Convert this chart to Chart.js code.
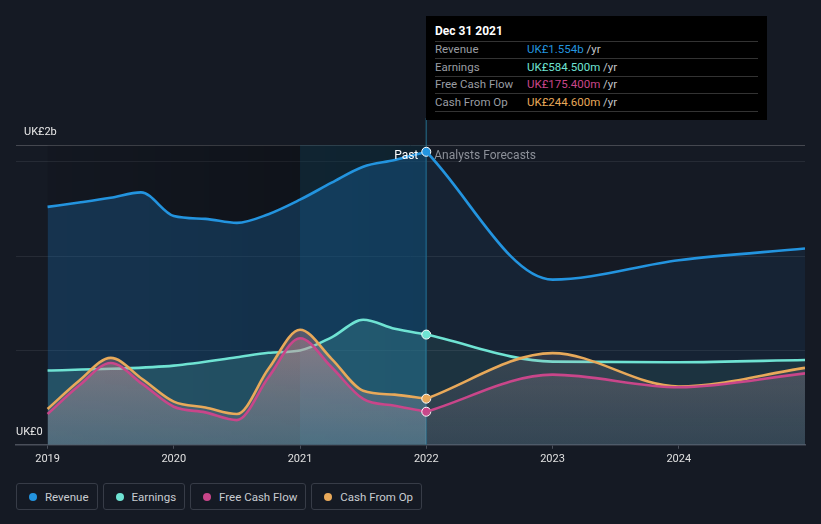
<!DOCTYPE html>
<html>
<head>
<meta charset="utf-8">
<script src="https://cdn.jsdelivr.net/npm/chart.js@4.4.1/dist/chart.umd.min.js"></script>
<style>
  body { margin:0; background:#151a24; width:821px; height:524px; overflow:hidden; font-family:Roboto, sans-serif; position:relative; }
  #wrap { position:absolute; left:0; top:0; width:821px; height:470px; }
  #tip { position:absolute; left:426px; top:16px; width:341px; height:104px; background:#000; font-size:11.5px; }
  #tip .t { position:absolute; left:9px; top:8px; color:#fff; font-weight:bold; font-size:12px; }
  #tip .sep { position:absolute; left:9px; width:323px; height:1px; background:#333; }
  #tip .row { position:absolute; left:9px; width:320px; line-height:14px; }
  #tip .lab { position:absolute; left:0; color:#9a9da3; }
  #tip .val { position:absolute; left:92px; white-space:nowrap; }
  #tip .val span { color:#c4c6ca; }
  #legend { position:absolute; left:16px; top:483px; display:flex; gap:5px; }
  .item { height:27px; border:1px solid #373c47; border-radius:3px; box-sizing:border-box; display:flex; align-items:center; padding:0 8px 0 12px; color:#c9ccd1; font-size:11.5px; }
  .dot { width:8px; height:8px; border-radius:50%; margin-right:8px; }
</style>
</head>
<body>
<div id="wrap"><canvas id="c"></canvas></div>
<div id="tip"></div>
<div id="legend"></div>
<script>
const NAMES  = ['Revenue', 'Earnings', 'Free Cash Flow', 'Cash From Op'];
const COLORS = ['#2394df', '#6fe3d3', '#c9468a', '#e8a95a'];
const NOW = 2022;
const YMAX = 1.59;
const X_TICKS = [2019, 2020, 2021, 2022, 2023, 2024];
const Y_GRID = [0, 0.5, 1.0, 1.5, YMAX];
const Y_LABELS = [[0, 'UK£0'], [YMAX, 'UK£2b']];

// values in UK£ billions
const revPastT = [2019, 2019.25, 2019.5, 2019.74, 2020, 2020.25, 2020.5, 2020.75, 2021, 2021.25, 2021.5, 2021.75, 2022];
const revPast  = [1.262, 1.285, 1.31, 1.339, 1.213, 1.198, 1.177, 1.223, 1.30, 1.39, 1.475, 1.51, 1.554];
const revFcT   = [2022, 2023, 2024, 2025];
const revFc    = [1.554, 0.876, 0.979, 1.041];

const earnPastT = [2019, 2019.5, 2020, 2020.5, 2020.75, 2021, 2021.25, 2021.5, 2021.75, 2022];
const earnPast  = [0.394, 0.403, 0.42, 0.464, 0.488, 0.50, 0.57, 0.663, 0.615, 0.5845];
const earnFcT   = [2022, 2023, 2024, 2025];
const earnFc    = [0.5845, 0.441, 0.438, 0.45];

const cashT   = [2019, 2019.25, 2019.5, 2019.75, 2020, 2020.25, 2020.5, 2020.75, 2021, 2021.25, 2021.5, 2021.75, 2022];
const fcfPast = [0.163, 0.314, 0.434, 0.323, 0.202, 0.172, 0.131, 0.358, 0.565, 0.411, 0.243, 0.207, 0.1754];
const cfoPast = [0.19, 0.34, 0.461, 0.349, 0.229, 0.198, 0.163, 0.403, 0.61, 0.456, 0.287, 0.266, 0.2446];
const cashFcT = [2022, 2023, 2024, 2025];
const fcfFc   = [0.1754, 0.372, 0.305, 0.379];
const cfoFc   = [0.2446, 0.486, 0.309, 0.408];

function pts(t, v){ return t.map((x, i) => ({ x, y: v[i] })); }

function cashFill(past){
  return (ctx) => {
    const ch = ctx.chart, a = ch.chartArea;
    if (!a) return 'rgba(0,0,0,0)';
    const y = ch.scales.y;
    const g = ch.ctx.createLinearGradient(0, y.getPixelForValue(0.65), 0, a.bottom);
    if (past) { g.addColorStop(0, 'rgba(215,145,145,0.36)'); g.addColorStop(1, 'rgba(165,160,170,0.18)'); }
    else { g.addColorStop(0, 'rgba(200,160,160,0.2)'); g.addColorStop(1, 'rgba(150,150,165,0.1)'); }
    return g;
  };
}

function line(data, color, fill, order, dot){
  return {
    data, borderColor: color, backgroundColor: fill, fill: 'origin', order,
    borderWidth: 2.6, cubicInterpolationMode: 'monotone',
    pointRadius: c => (dot && c.dataIndex === data.length - 1) ? 4.5 : 0,
    pointBackgroundColor: color, pointBorderColor: '#ffffff', pointBorderWidth: 1
  };
}

const datasets = [
  line(pts(revPastT, revPast), COLORS[0], 'rgba(33,150,243,0.22)', 10, true),
  line(pts(revFcT, revFc), COLORS[0], 'rgba(33,150,243,0.08)', 9, false),
  line(pts(earnPastT, earnPast), COLORS[1], 'rgba(110,229,214,0.17)', 8, true),
  line(pts(earnFcT, earnFc), COLORS[1], 'rgba(110,229,214,0.08)', 7, false),
  line(pts(cashT, cfoPast), COLORS[3], cashFill(true), 6, true),
  line(pts(cashFcT, cfoFc), COLORS[3], cashFill(false), 5, false),
  line(pts(cashT, fcfPast), COLORS[2], cashFill(true), 4, true),
  line(pts(cashFcT, fcfFc), COLORS[2], cashFill(false), 3, false)
];

const bands = {
  id: 'bands',
  beforeDatasetsDraw(chart){
    const { ctx, chartArea: a, scales: { x } } = chart;
    const x0 = x.getPixelForValue(2019), x1 = x.getPixelForValue(2021), x2 = x.getPixelForValue(NOW);
    ctx.save();
    const g = ctx.createLinearGradient(x0, 0, x2, 0);
    g.addColorStop(0, 'rgba(0,0,0,0.08)');
    g.addColorStop(1, 'rgba(0,0,0,0.35)');
    ctx.fillStyle = g;
    ctx.fillRect(x0, a.top, x2 - x0, a.bottom - a.top);
    ctx.fillStyle = 'rgba(20,135,180,0.15)';
    ctx.fillRect(x1, a.top, x2 - x1, a.bottom - a.top);
    ctx.strokeStyle = 'rgba(35,110,140,0.7)';
    ctx.lineWidth = 1.5;
    ctx.beginPath(); ctx.moveTo(x2, 118); ctx.lineTo(x2, a.bottom); ctx.stroke();
    ctx.restore();
  },
  afterDatasetsDraw(chart){
    const { ctx, chartArea: a, scales: { x, y } } = chart;
    const xn = x.getPixelForValue(NOW);
    ctx.save();
    ctx.font = '12px Roboto';
    ctx.textBaseline = 'middle';
    ctx.fillStyle = '#ffffff';
    ctx.textAlign = 'right';
    ctx.fillText('Past', xn - 8, a.top + 11);
    ctx.fillStyle = '#8c9099';
    ctx.textAlign = 'left';
    ctx.fillText('Analysts Forecasts', xn + 8, a.top + 11);
    ctx.fillStyle = '#e8e8e8';
    ctx.font = '11px Roboto';
    Y_LABELS.forEach(([v, t]) => ctx.fillText(t, a.left + (v ? 8 : 0), y.getPixelForValue(v) - 13));
    ctx.restore();
  }
};

new Chart(document.getElementById('c'), {
  type: 'line',
  data: { datasets },
  plugins: [bands],
  options: {
    responsive: true, maintainAspectRatio: false, animation: false,
    layout: { padding: { left: 16, right: 16, top: 145, bottom: 0 } },
    plugins: { legend: { display: false }, tooltip: { enabled: false } },
    scales: {
      x: {
        type: 'linear', min: 2018.75, max: 2025,
        afterBuildTicks: s => { s.ticks = X_TICKS.map(value => ({ value })); },
        ticks: { color: '#e0e0e0', font: { family: 'Roboto', size: 11 }, padding: 4, callback: v => String(v) },
        grid: { drawOnChartArea: false, color: '#4a4f5a', tickLength: 4 },
        border: { color: '#4a4f5a', width: 1.5 }
      },
      y: {
        min: 0, max: YMAX,
        afterBuildTicks: s => { s.ticks = Y_GRID.map(value => ({ value })); },
        ticks: { display: false },
        grid: { drawTicks: false, color: c => c.tick.value === YMAX ? '#454850' : '#262b35', lineWidth: 1 },
        border: { display: false }
      }
    }
  }
});

// tooltip box for the current period
const tip = document.getElementById('tip');
const nowVals = [revPast[revPast.length - 1], earnPast[earnPast.length - 1], fcfPast[fcfPast.length - 1], cfoPast[cfoPast.length - 1]];
function fmt(v){ return v >= 1 ? 'UK£' + v.toFixed(3) + 'b' : 'UK£' + (v * 1000).toFixed(3) + 'm'; }
tip.innerHTML = '<div class="t">Dec 31 2021</div>';
[25, 42, 60, 77, 95].forEach(t => { tip.innerHTML += `<div class="sep" style="top:${t}px"></div>`; });
NAMES.forEach((n, i) => {
  const top = 26 + i * 17.5;
  tip.innerHTML += `<div class="row" style="top:${top}px"><span class="lab">${n}</span><span class="val" style="color:${COLORS[i]}">${fmt(nowVals[i])} <span>/yr</span></span></div>`;
});

const leg = document.getElementById('legend');
NAMES.forEach((n, i) => {
  leg.innerHTML += `<div class="item"><div class="dot" style="background:${COLORS[i]}"></div>${n}</div>`;
});
</script>
</body>
</html>
